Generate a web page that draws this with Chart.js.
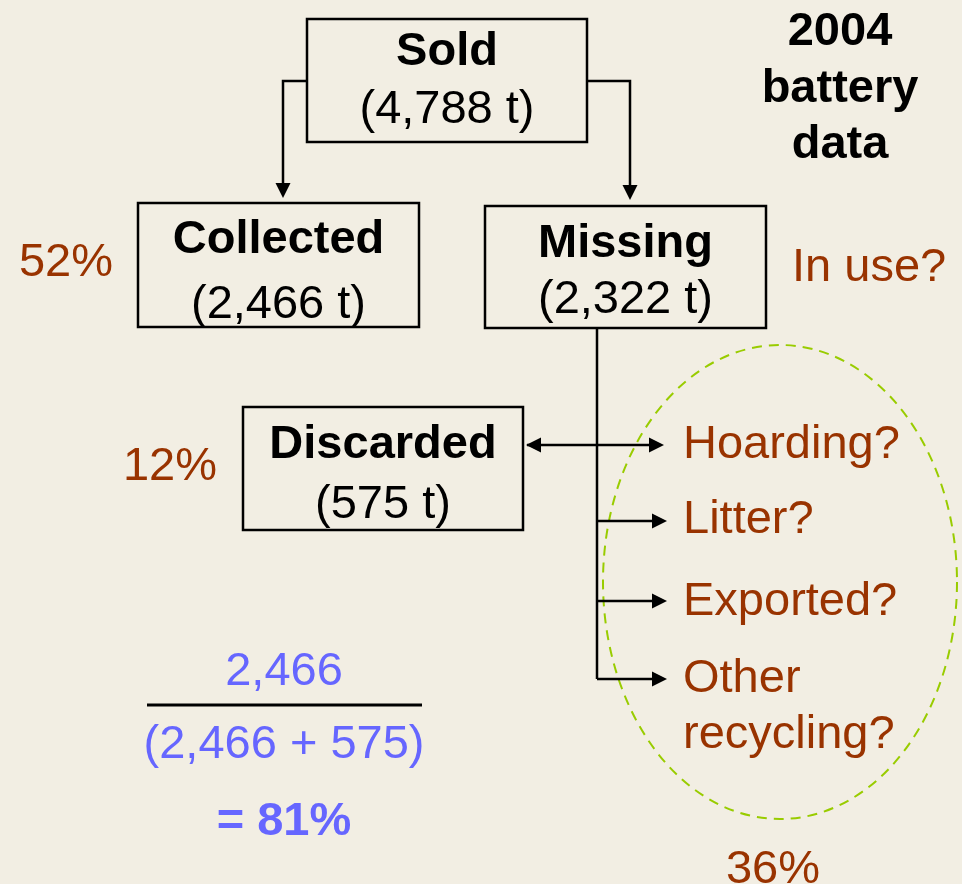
<!DOCTYPE html>
<html>
<head>
<meta charset="utf-8">
<script src="https://cdn.jsdelivr.net/npm/chart.js@4"></script>
<style>
  html, body { margin: 0; padding: 0; background: #F2EEE3; }
  canvas { display: block; }
</style>
</head>
<body>
<canvas id="flowChart" width="962" height="884"></canvas>
<script>
// data
const titleLines = ['2004', 'battery', 'data'];
const nodeNames = ['Sold', 'Collected', 'Missing', 'Discarded'];
const nodeTonnes = [4788, 2466, 2322, 575];
const nodeShares = ['', '52%', '', '12%'];
const inUseLabel = 'In use?';
const fateLabels = [['Hoarding?'], ['Litter?'], ['Exported?'], ['Other', 'recycling?']];
const missingShare = '36%';

// layout (diagram units = pixels of the 962x884 picture)
const boxes = [
  { x0: 307, x1: 587, y0: 19, y1: 142, b1: 65, b2: 123, sx: 0, sb: 0 },
  { x0: 138, x1: 419, y0: 203, y1: 327, b1: 253, b2: 318, sx: 66, sb: 276 },
  { x0: 485, x1: 766, y0: 206, y1: 328, b1: 257, b2: 313, sx: 0, sb: 0 },
  { x0: 243, x1: 523, y0: 407, y1: 530, b1: 458, b2: 518, sx: 170, sb: 480 }
];
const fateY = [445, 521, 601, 679];
const fateBase = [[458], [533], [615], [692, 748]];
const trunkX = 597;

const BROWN = '#993300';
const BLUE = '#6666FF';
const FONT = '"Liberation Sans", Arial, sans-serif';
const SIZE = '47px ';

const fmt = n => n.toLocaleString('en-US');

function arrowHead(ctx, x, y, dir) {
  // dir: 'down' | 'right' | 'left'
  const L = 15, W = 7.5;
  ctx.beginPath();
  if (dir === 'down') { ctx.moveTo(x, y); ctx.lineTo(x - W, y - L); ctx.lineTo(x + W, y - L); }
  if (dir === 'right') { ctx.moveTo(x, y); ctx.lineTo(x - L, y - W); ctx.lineTo(x - L, y + W); }
  if (dir === 'left') { ctx.moveTo(x, y); ctx.lineTo(x + L, y - W); ctx.lineTo(x + L, y + W); }
  ctx.closePath();
  ctx.fill();
}

const diagramPlugin = {
  id: 'diagram',
  afterDraw(chart) {
    const ctx = chart.ctx;
    const X = v => chart.scales.x.getPixelForValue(v);
    const Y = v => chart.scales.y.getPixelForValue(v);
    ctx.save();
    ctx.textBaseline = 'alphabetic';

    // ellipse around the unknown fates
    ctx.strokeStyle = '#99CC00';
    ctx.lineWidth = 2;
    ctx.setLineDash([10, 7]);
    ctx.beginPath();
    ctx.ellipse(X(780), Y(582), X(957) - X(780), Y(819) - Y(582), 0, 0, Math.PI * 2);
    ctx.stroke();
    ctx.setLineDash([]);

    // boxes
    ctx.strokeStyle = '#000';
    ctx.fillStyle = '#000';
    ctx.lineWidth = 2.5;
    boxes.forEach((b, i) => {
      ctx.strokeRect(X(b.x0), Y(b.y0), X(b.x1) - X(b.x0), Y(b.y1) - Y(b.y0));
      const cx = X((b.x0 + b.x1) / 2);
      ctx.textAlign = 'center';
      ctx.fillStyle = '#000';
      ctx.font = 'bold ' + SIZE + FONT;
      ctx.fillText(nodeNames[i], cx, Y(b.b1));
      ctx.font = SIZE + FONT;
      ctx.fillText('(' + fmt(nodeTonnes[i]) + ' t)', cx, Y(b.b2));
      if (nodeShares[i]) {
        ctx.fillStyle = BROWN;
        ctx.fillText(nodeShares[i], X(b.sx), Y(b.sb));
      }
    });

    // arrows from Sold
    ctx.fillStyle = '#000';
    const sold = boxes[0], col = boxes[1], mis = boxes[2], dis = boxes[3];
    ctx.beginPath();
    ctx.moveTo(X(sold.x0), Y(81)); ctx.lineTo(X(283), Y(81)); ctx.lineTo(X(283), Y(190));
    ctx.moveTo(X(sold.x1), Y(81)); ctx.lineTo(X(630), Y(81)); ctx.lineTo(X(630), Y(193));
    ctx.stroke();
    arrowHead(ctx, X(283), Y(col.y0 - 5), 'down');
    arrowHead(ctx, X(630), Y(mis.y0 - 6), 'down');

    // trunk from Missing
    ctx.lineWidth = 2.5;
    ctx.beginPath();
    ctx.moveTo(X(trunkX), Y(mis.y1)); ctx.lineTo(X(trunkX), Y(fateY[3]));
    ctx.stroke();

    // branch arrows
    ctx.beginPath();
    ctx.moveTo(X(dis.x1 + 4), Y(fateY[0])); ctx.lineTo(X(660), Y(fateY[0]));
    fateY.slice(1).forEach(y => { ctx.moveTo(X(trunkX), Y(y)); ctx.lineTo(X(662), Y(y)); });
    ctx.stroke();
    arrowHead(ctx, X(dis.x1 + 3), Y(fateY[0]), 'left');
    arrowHead(ctx, X(664), Y(fateY[0]), 'right');
    fateY.slice(1).forEach(y => arrowHead(ctx, X(667), Y(y), 'right'));

    // fate labels
    ctx.fillStyle = BROWN;
    ctx.font = SIZE + FONT;
    ctx.textAlign = 'left';
    fateLabels.forEach((lines, i) => {
      lines.forEach((t, j) => ctx.fillText(t, X(683), Y(fateBase[i][j])));
    });
    ctx.fillText(inUseLabel, X(792), Y(281));
    ctx.textAlign = 'center';
    ctx.fillText(missingShare, X(773), Y(883));

    // title
    ctx.fillStyle = '#000';
    ctx.font = 'bold ' + SIZE + FONT;
    [45, 102, 158].forEach((y, i) => ctx.fillText(titleLines[i], X(840), Y(y)));

    // collection rate
    const collected = nodeTonnes[1], discarded = nodeTonnes[3];
    const rate = Math.round(collected / (collected + discarded) * 100);
    ctx.fillStyle = BLUE;
    ctx.font = SIZE + FONT;
    ctx.fillText(fmt(collected), X(284), Y(685));
    ctx.fillText('(' + fmt(collected) + ' + ' + fmt(discarded) + ')', X(284), Y(758));
    ctx.font = 'bold ' + SIZE + FONT;
    ctx.fillText('= ' + rate + '%', X(284), Y(835));
    ctx.strokeStyle = '#000';
    ctx.lineWidth = 3;
    ctx.beginPath();
    ctx.moveTo(X(147), Y(705)); ctx.lineTo(X(422), Y(705));
    ctx.stroke();

    ctx.restore();
  }
};

new Chart(document.getElementById('flowChart'), {
  type: 'scatter',
  data: {
    datasets: [{
      label: 'nodes',
      data: boxes.map(b => ({ x: (b.x0 + b.x1) / 2, y: (b.y0 + b.y1) / 2 })),
      pointRadius: 0
    }]
  },
  options: {
    responsive: false,
    animation: false,
    events: [],
    layout: { padding: 0 },
    plugins: { legend: { display: false }, tooltip: { enabled: false } },
    scales: {
      x: { type: 'linear', min: 0, max: 962, display: false },
      y: { type: 'linear', min: 0, max: 884, reverse: true, display: false }
    }
  },
  plugins: [diagramPlugin]
});
</script>
</body>
</html>
